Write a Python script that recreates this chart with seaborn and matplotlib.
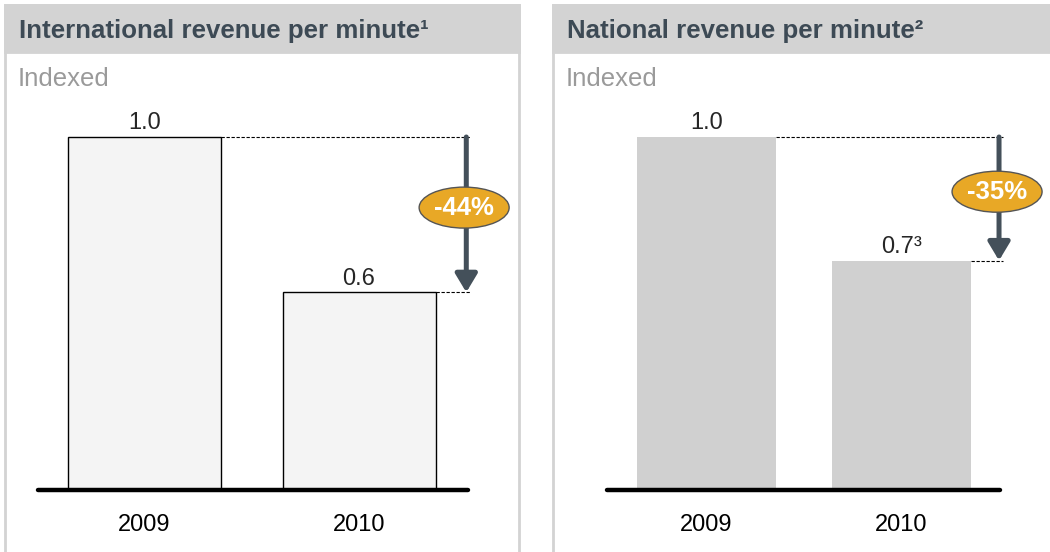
import matplotlib
matplotlib.use("Agg")
import matplotlib.pyplot as plt
import seaborn as sns
from matplotlib.patches import Rectangle, Ellipse

# -----------------------------
# Data
# -----------------------------
years = ["2009", "2010"]
intl_values = [1.0, 0.56]
intl_labels = ["1.0", "0.6"]
natl_values = [1.0, 0.65]
natl_labels = ["1.0", "0.7\u00b3"]
titles = ["International revenue per minute\u00b9", "National revenue per minute\u00b2"]
subtitle = "Indexed"

sns.set_style("white")
plt.rcParams["font.family"] = ["Liberation Sans", "DejaVu Sans"]

W, H = 1050, 552
fig = plt.figure(figsize=(10.5, 5.52), dpi=100)

title_col = "#3d4a55"
arrow_col = "#44505a"
oval_col = "#e8a826"
border_col = "#d3d3d3"

# panel frames (pixel -> figure fraction)
def px_rect(x0, y0, x1, y1, **kw):
    r = Rectangle((x0 / W, 1 - y1 / H), (x1 - x0) / W, (y1 - y0) / H,
                  transform=fig.transFigure, zorder=-5, **kw)
    fig.add_artist(r)

for (x0, x1), title in zip([(5, 519), (553, 1052)], titles):
    px_rect(x0, 5, x1, 560, facecolor="white", edgecolor=border_col, lw=2)
    px_rect(x0, 5, x1, 52, facecolor=border_col, edgecolor=border_col, lw=2)
    fig.text((x0 + 14) / W, 1 - 31 / H, title, fontsize=18.6, fontweight="bold",
             color=title_col, va="center", ha="left")
    fig.text((x0 + 13) / W, 1 - 79 / H, subtitle, fontsize=18.5, color="#9a9a9a",
             va="center", ha="left")

# axes: baseline at 490 px, 1.0 at ~137 px
ylim_top = 1.3
ax_h = 353 * ylim_top
ax1 = fig.add_axes([38 / W, 62 / H, 430 / W, ax_h / H])
ax2 = fig.add_axes([607 / W, 62 / H, 393 / W, ax_h / H])

panels = [
    (ax1, intl_values, intl_labels, "#f4f4f4", "black", 1.0, (-0.497, 1.508)),
    (ax2, natl_values, natl_labels, "#d0d0d0", "none", 0, (-0.51, 1.505)),
]

bw = 0.713
for ax, vals, labs, fc, ec, elw, xl in panels:
    sns.barplot(x=years, y=vals, ax=ax, color=fc, edgecolor=ec, linewidth=elw,
                width=bw, saturation=1)
    ax.patch.set_alpha(0)
    for s in ax.spines.values():
        s.set_visible(False)
    ax.set_xlim(*xl)
    ax.set_ylim(0, ylim_top)
    ax.set_yticks([])
    ax.set_ylabel("")
    ax.tick_params(axis="x", length=0, pad=17, labelsize=17, labelcolor="black")
    ax.axhline(0, color="black", lw=3.2, solid_capstyle="round", zorder=5, clip_on=False)

    for i, (v, lab) in enumerate(zip(vals, labs)):
        ax.annotate(lab, (i, v), xytext=(0, 2), textcoords="offset points",
                    ha="center", va="bottom", fontsize=17)

    # change arrow
    ax_x = 1.5
    for i, v in enumerate(vals):
        ax.plot([i + bw / 2, ax_x + 0.02], [v, v], color="black", lw=0.8,
                ls=(0, (3, 1.5)), clip_on=False)
    ax.annotate("", xy=(ax_x, vals[1]), xytext=(ax_x, vals[0]),
                arrowprops=dict(arrowstyle="-|>,head_length=0.5,head_width=0.3",
                                color=arrow_col, lw=3.6, mutation_scale=22,
                                shrinkA=0, shrinkB=0),
                annotation_clip=False)
    pct = round((vals[1] - vals[0]) / vals[0] * 100)
    cy = (vals[0] + vals[1]) / 2 + 0.02
    x_unit = ax.get_window_extent().width / (xl[1] - xl[0])
    y_unit = ax.get_window_extent().height / ylim_top
    ax.add_patch(Ellipse((ax_x - 0.01, cy), 90 / x_unit, 41 / y_unit,
                         facecolor=oval_col, edgecolor="#555555", lw=1,
                         zorder=6, clip_on=False))
    ax.text(ax_x - 0.01, cy, f"{pct}%", color="white", fontsize=18.5,
            fontweight="bold", ha="center", va="center", zorder=7)

fig.savefig("out.png", dpi=100)
